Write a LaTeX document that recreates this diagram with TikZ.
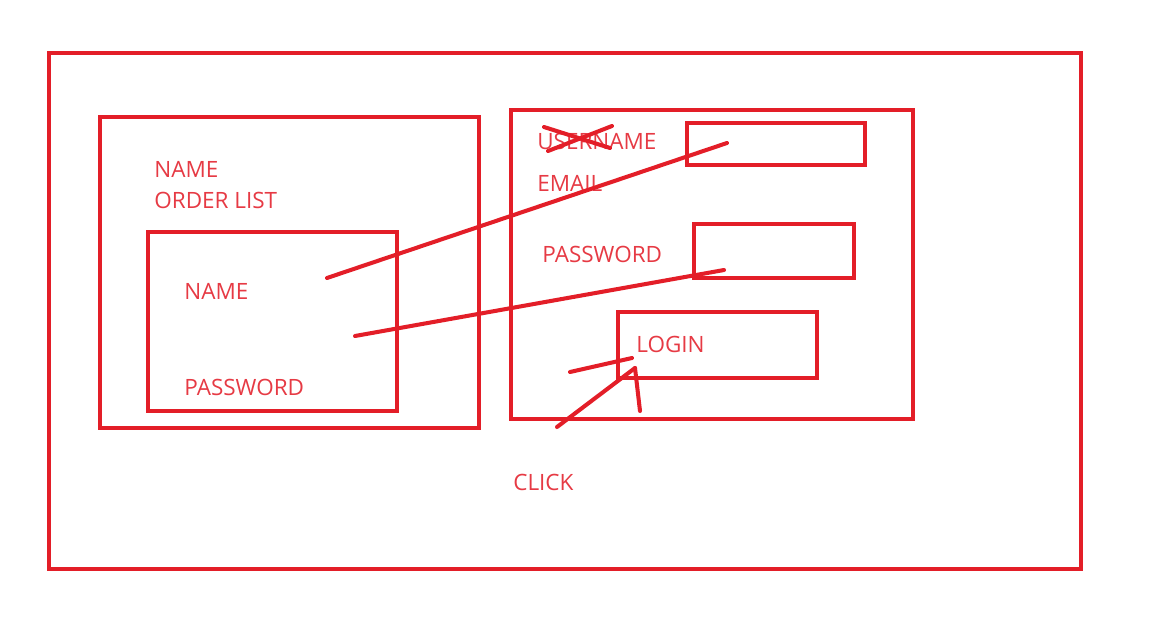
\documentclass[tikz,border=0pt]{standalone}
\usepackage{fontspec}
\setmainfont{Open Sans}
\usetikzlibrary{fit}
\definecolor{penred}{RGB}{227,30,40}
\definecolor{inkred}{RGB}{230,58,68}
\tikzset{
  box/.style={draw=penred, line width=2.3pt, inner sep=0pt},
  lbl/.style={anchor=west, inner sep=0pt, text=inkred, font=\fontsize{12.8}{14}\selectfont},
  pen/.style={draw=penred, line width=2.3pt, line cap=round}
}
\begin{document}
\begin{tikzpicture}[x=0.02cm, y=-0.02cm]
\useasboundingbox (0,0) rectangle (1152,639);

% page
\node[box, fit={(49,53) (1081,569)}] (page) {};

% profile panel
\node[box, fit={(100,117) (479,428)}] (profile) {};
\node[lbl] (pname) at (154,169) {NAME};
\node[lbl] (orders) at (154,200) {ORDER LIST};
\node[box, fit={(148,232) (397,411)}] (account) {};
\node[lbl] (aname) at (184,291) {NAME};
\node[lbl] (apass) at (184,387) {PASSWORD};

% login form
\node[box, fit={(511,110) (913,419)}] (form) {};
\node[lbl] (user) at (537,141) {USERNAME};
\node[lbl] (email) at (537,183) {EMAIL};
\node[lbl] (fpass) at (542,254) {PASSWORD};
\node[box, fit={(687,123) (865,165)}] (userfield) {};
\node[box, fit={(694,224) (854,278)}] (passfield) {};
\node[box, fit={(618,312) (817,378)}] (login) {};
\node[lbl] at (636,344) {LOGIN};
\node[lbl] (click) at (513,482) {CLICK};

% username crossed out
\draw[pen] (544,127) -- (610,148);
\draw[pen] (548,151) -- (612,126);

% links between the two panels
\coordinate (nameend) at (327,278);
\coordinate (userend) at (727,143);
\coordinate (passend) at (355,336);
\coordinate (pfieldend) at (724,270);
\draw[pen] (nameend) -- (userend);
\draw[pen] (passend) -- (pfieldend);

% pointer onto the login button
\coordinate (tip) at (635,368);
\draw[pen] (570,372) -- (632,358);
\draw[pen] (557,427) -- (tip);
\draw[pen] (tip) -- (640,411);

\end{tikzpicture}
\end{document}
